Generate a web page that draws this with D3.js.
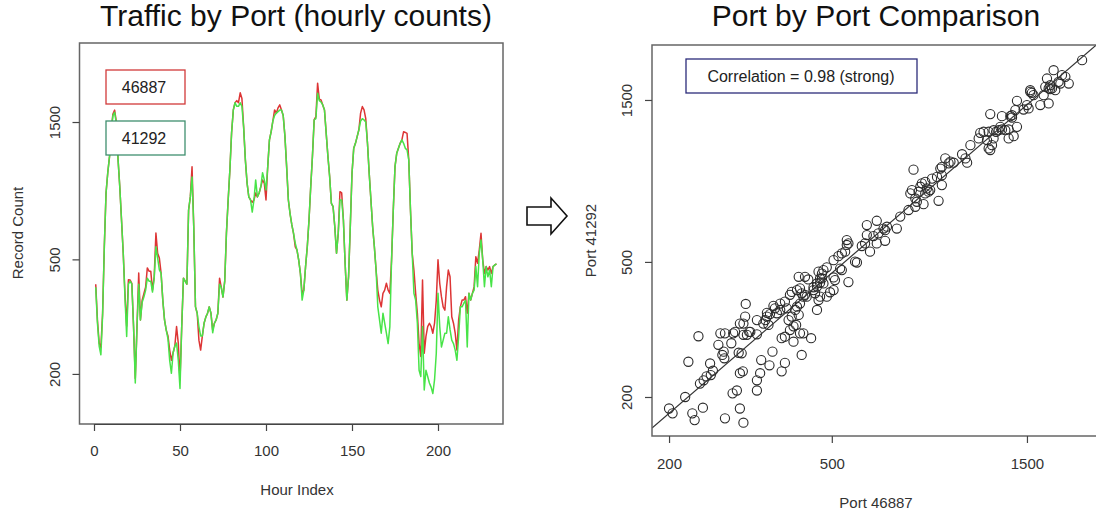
<!DOCTYPE html>
<html lang="en">
<head>
<meta charset="UTF-8">
<title>Traffic by Port</title>
<script src="https://d3js.org/d3.v7.min.js"></script>
<style>
    body { margin: 0; background: #fff; }
    svg { display: block; font-family: "Liberation Sans", Arial, sans-serif; }
    .title { font-size: 30px; fill: #111; text-anchor: middle; }
    .lab { font-size: 15px; fill: #333; text-anchor: middle; }
    .axis text { font-size: 15px; fill: #333; font-family: "Liberation Sans", Arial, sans-serif; }
    .axis path, .axis line { stroke: #444; stroke-width: 1.2; }
    .frame { fill: none; stroke: #666; stroke-width: 1.5; }
</style>
</head>
<body>
<svg width="1096" height="518"></svg>
<script>
// hour index 1..234, counts per port
const hours = d3.range(1, 235);
const port46887 = [
  410,308,256,247,325,553,850,1000,1135,1400,
  1600,1650,1500,1108,890,685,525,380,293,425,
  424,413,292,193,292,448,308,361,380,400,
  467,455,455,391,435,617,525,505,448,361,
  308,284,271,242,223,237,250,292,256,190,
  292,430,420,410,742,824,1048,648,342,325,
  262,242,271,300,315,325,342,325,284,300,
  308,325,430,400,370,420,617,804,1023,1380,
  1652,1750,1780,1750,1895,1810,1440,1108,920,824,
  804,790,804,850,824,850,895,944,920,804,
  1048,1300,1390,1513,1652,1610,1680,1720,1650,1580,
  1340,1048,804,720,660,616,553,539,498,447,
  381,391,472,553,685,894,1140,1525,1566,2046,
  1800,1790,1720,1652,1370,1140,970,783,762,649,
  525,616,859,851,685,485,361,435,649,995,
  1215,1265,1335,1410,1610,1697,1652,1540,1265,995,
  804,649,553,459,391,361,342,381,391,413,
  391,381,498,742,1050,1168,1215,1265,1300,1388,
  1380,1370,1108,742,525,459,381,325,255,230,
  424,236,270,292,300,292,277,300,361,498,
  413,371,342,333,402,459,435,316,300,277,
  242,308,342,361,361,371,325,381,361,381,
  402,511,485,539,616,498,447,472,459,472,
  447,472,478,482
];
const port41292 = [
  400,300,250,233,320,553,850,1000,1135,1400,
  1580,1620,1480,1108,890,685,525,370,270,410,
  420,410,292,186,292,410,308,355,370,390,
  430,420,420,385,430,553,505,460,448,361,
  308,284,265,223,201,237,250,256,223,178,
  292,430,420,410,742,824,967,648,342,325,
  292,271,271,300,315,325,342,325,278,300,
  308,325,410,400,370,420,617,804,1023,1380,
  1652,1750,1700,1700,1750,1700,1440,1108,920,824,
  804,730,804,944,824,850,895,1000,944,871,
  1048,1300,1390,1513,1580,1610,1630,1650,1650,1580,
  1340,1048,804,720,660,616,569,539,498,447,
  361,391,472,553,685,894,1140,1525,1540,1889,
  1780,1760,1720,1652,1370,1140,970,783,762,649,
  525,616,804,804,685,485,361,435,649,995,
  1215,1265,1335,1410,1510,1540,1525,1500,1265,995,
  804,649,553,459,342,308,277,325,300,277,
  255,292,498,742,1050,1168,1215,1265,1300,1265,
  1215,1200,1108,742,525,381,361,300,206,196,
  292,176,206,196,186,180,171,191,236,381,
  292,248,262,277,277,316,285,262,255,242,
  223,270,342,342,352,360,248,381,361,381,
  391,472,402,525,584,498,402,472,435,459,
  402,472,478,482
];
// scatter points as plotted (port 46887 vs port 41292)
const scatterX = [
  200,204,219,223,228,231,242,236,238,243,247,253,256,252,264,267,274,272,273,270,
  274,284,287,290,286,293,296,301,298,303,298,304,298,304,307,308,304,310,314,328,
  328,328,328,334,336,347,344,350,340,353,352,358,363,360,367,374,377,384,377,384,
  384,388,395,403,409,399,392,403,418,426,445,422,407,411,415,418,426,430,418,411,
  399,395,415,430,438,460,464,468,455,451,451,460,468,477,473,473,477,486,468,495,
  505,486,505,509,524,529,519,529,539,544,544,549,549,570,576,592,603,620,609,609,
  632,644,650,644,669,675,682,675,721,735,770,800,807,838,800,778,785,815,792,830,
  846,846,862,870,879,904,929,929,912,921,929,947,965,993,1041,1061,1071,1091,1143,1153,
  1175,1209,1243,1279,1303,1328,1353,1243,1232,1209,1220,1220,1303,1366,1379,1353,1392,1418,1405,1418,
  1472,1514,1500,1617,1695,1528,1542,1556,1648,1663,1695,1727,1759,1710,1792,1810,1679,1743,1827,1862,
  1898,2046,1261,1291,1198,854,823,460,464,422,434,374,347,1528,1710,1379,505,316,975
];
const scatterY = [
  185,179,200,254,179,171,186,302,219,224,230,232,239,251,285,308,308,272,260,266,
  173,288,308,311,205,209,270,269,235,238,185,168,329,329,345,376,305,305,311,337,
  306,209,224,235,257,345,337,326,329,351,248,272,365,371,353,361,238,252,298,301,
  382,365,315,323,326,345,337,291,308,308,298,266,361,369,349,377,395,400,418,413,
  408,400,452,452,444,361,386,395,404,413,421,432,434,432,447,462,473,482,447,407,
  413,395,450,442,478,473,520,530,536,580,561,567,436,501,498,557,567,536,600,642,
  596,567,607,661,627,620,635,577,627,680,711,727,752,740,769,796,814,805,935,852,
  861,796,805,814,880,890,900,842,757,942,953,1009,976,980,1038,1009,980,1104,1156,1200,
  1209,1209,1222,1222,1228,1222,1228,1156,1104,1080,1068,1363,1344,1344,1332,1156,1173,1250,1400,1491,
  1406,1416,1449,1449,1465,1603,1575,1550,1550,1640,1622,1622,1603,1658,1696,1677,1735,1836,1775,1755,
  1677,1965,1209,1250,1143,823,833,423,468,404,395,377,354,1585,1615,1353,506,311,987
];
const xTicksLeft = [0, 50, 100, 150, 200];
const yTicksLeft = [200, 500, 1500];
const xTicksRight = [200, 500, 1500];
const yTicksRight = [200, 500, 1500];
const legendNames = ["46887", "41292"];
const legendColors = ["#d23a3a", "#3f8f6f"];
const correlationText = "Correlation = 0.98 (strong)";
// fitted line, log10(y) = fitIntercept + fitSlope * log10(x)
const fitIntercept = -0.138;
const fitSlope = 1.039;

const svg = d3.select("svg");

// ---------- left panel: time series ----------
const L = { x0: 79.5, x1: 503, y0: 43, y1: 424 };
const x = d3.scaleLinear().domain([0, 200]).range([94, 438]);
const y = d3.scaleLog().domain([134, 2822]).range([L.y1, L.y0]);

svg.append("text").attr("class", "title").attr("x", 296).attr("y", 26)
    .text("Traffic by Port (hourly counts)");

const line = (vals) => d3.line().x((d, i) => x(hours[i])).y(d => y(d))(vals);

svg.append("path").attr("d", line(port46887))
    .attr("fill", "none").attr("stroke", "#dd3535").attr("stroke-width", 1.5)
    .attr("stroke-linejoin", "round");
svg.append("path").attr("d", line(port41292))
    .attr("fill", "none").attr("stroke", "#48e448").attr("stroke-width", 1.5)
    .attr("stroke-linejoin", "round");

svg.append("rect").attr("class", "frame")
    .attr("x", L.x0).attr("y", L.y0).attr("width", L.x1 - L.x0).attr("height", L.y1 - L.y0);

svg.append("g").attr("class", "axis")
    .attr("transform", `translate(0,${L.y1})`)
    .call(d3.axisBottom(x).tickValues(xTicksLeft).tickSize(7).tickPadding(14).tickSizeOuter(0));

const gyL = svg.append("g").attr("class", "axis")
    .attr("transform", `translate(${L.x0},0)`)
    .call(d3.axisLeft(y).tickValues(yTicksLeft).tickFormat(d3.format("d")).tickSize(7).tickSizeOuter(0));
gyL.select(".domain").remove();
gyL.selectAll("text").attr("x", 0).attr("y", -20).attr("dy", 0)
    .attr("transform", "rotate(-90)").attr("text-anchor", "middle");

svg.append("text").attr("class", "lab").attr("x", 297).attr("y", 495)
    .text("Hour Index");
svg.append("text").attr("class", "lab").attr("transform", "translate(23,233) rotate(-90)")
    .text("Record Count");

// legend boxes
legendNames.forEach((name, i) => {
    const by = 70 + i * 51;
    svg.append("rect").attr("x", 106).attr("y", by).attr("width", 79).attr("height", 34)
        .attr("fill", "#fff").attr("stroke", legendColors[i]).attr("stroke-width", 1.3);
    svg.append("text").attr("x", 144).attr("y", by + 23).attr("text-anchor", "middle")
        .attr("font-size", 16).attr("fill", "#222").text(name);
});

// ---------- arrow ----------
svg.append("path")
    .attr("d", "M527,207H551V198L567,216L551,234V225H527Z")
    .attr("fill", "#fff").attr("stroke", "#111").attr("stroke-width", 1.6);

// ---------- right panel: scatter ----------
const R = { x0: 652, x1: 1100, y0: 45, y1: 436 };
const xs = d3.scaleLog().domain([181.7, 2263]).range([R.x0, R.x1]);
const ys = d3.scaleLog().domain([153.5, 2178]).range([R.y1, R.y0]);

svg.append("text").attr("class", "title").attr("x", 876).attr("y", 26)
    .text("Port by Port Comparison");

svg.append("clipPath").attr("id", "clipR").append("rect")
    .attr("x", R.x0).attr("y", R.y0).attr("width", R.x1 - R.x0).attr("height", R.y1 - R.y0);

const plotR = svg.append("g").attr("clip-path", "url(#clipR)");

plotR.selectAll("circle").data(scatterX).enter().append("circle")
    .attr("cx", d => xs(d))
    .attr("cy", (d, i) => ys(scatterY[i]))
    .attr("r", 4.6)
    .attr("fill", "none").attr("stroke", "#2a2a2a").attr("stroke-width", 1.1);

const fx = xs.domain();
const fitY = v => Math.pow(10, fitIntercept + fitSlope * Math.log10(v));
plotR.append("line")
    .attr("x1", xs(fx[0])).attr("y1", ys(fitY(fx[0])))
    .attr("x2", xs(fx[1])).attr("y2", ys(fitY(fx[1])))
    .attr("stroke", "#333").attr("stroke-width", 1.2);

svg.append("rect").attr("class", "frame")
    .attr("x", R.x0).attr("y", R.y0).attr("width", R.x1 - R.x0).attr("height", R.y1 - R.y0);

svg.append("g").attr("class", "axis")
    .attr("transform", `translate(0,${R.y1})`)
    .call(d3.axisBottom(xs).tickValues(xTicksRight).tickFormat(d3.format("d")).tickSize(7).tickPadding(15).tickSizeOuter(0))
    .select(".domain").remove();

const gyR = svg.append("g").attr("class", "axis")
    .attr("transform", `translate(${R.x0},0)`)
    .call(d3.axisLeft(ys).tickValues(yTicksRight).tickFormat(d3.format("d")).tickSize(7).tickSizeOuter(0));
gyR.select(".domain").remove();
gyR.selectAll("text").attr("x", 0).attr("y", -20).attr("dy", 0)
    .attr("transform", "rotate(-90)").attr("text-anchor", "middle");

svg.append("text").attr("class", "lab").attr("x", 876).attr("y", 508).text("Port 46887");
svg.append("text").attr("class", "lab").attr("transform", `translate(596,${(R.y0 + R.y1) / 2}) rotate(-90)`)
    .text("Port 41292");

// correlation box
svg.append("rect").attr("x", 686).attr("y", 59).attr("width", 231).attr("height", 34)
    .attr("fill", "#fff").attr("stroke", "#2b2b7a").attr("stroke-width", 1.3);
svg.append("text").attr("x", 801).attr("y", 82).attr("text-anchor", "middle")
    .attr("font-size", 16).attr("fill", "#222").text(correlationText);
</script>
</body>
</html>
